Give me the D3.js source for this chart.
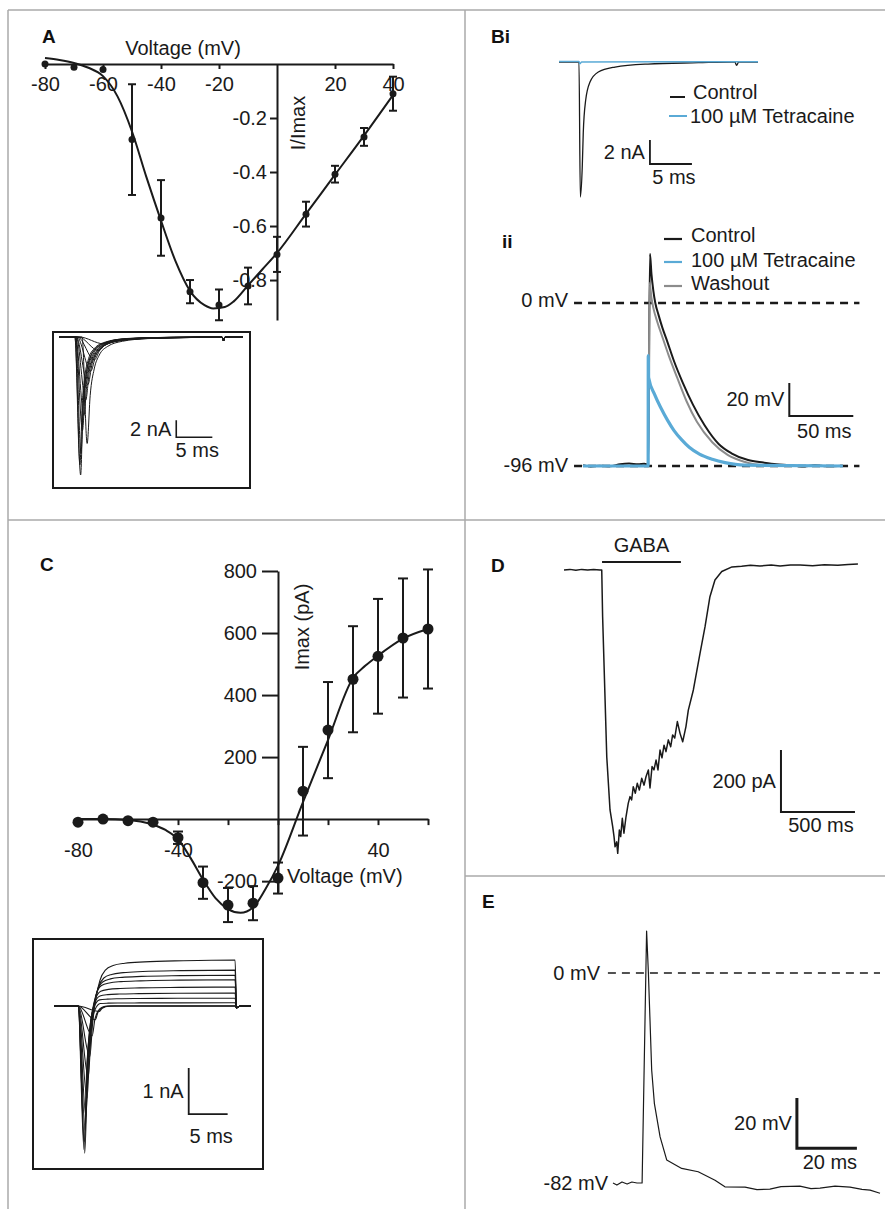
<!DOCTYPE html>
<html>
<head>
<meta charset="utf-8">
<script src="https://cdn.jsdelivr.net/npm/d3@7"></script>
<style>
body { margin: 0; background: #fff; }
svg { display: block; font-family: "Liberation Sans", Arial, sans-serif; }
.axis text { font-size: 20px; font-family: "Liberation Sans", Arial, sans-serif; fill: #1a1a1a; }
.axis path, .axis line { stroke: #1a1a1a; stroke-width: 2; }
</style>
</head>
<body>
<div id="fig"></div>
<script>
// ---------- Panel A: normalised I-V ----------
var voltsA = [-80, -70, -60, -50, -40, -30, -20, -10, 0, 10, 20, 30, 40];
var normA = [0.0, -0.012, -0.02, -0.28, -0.57, -0.843, -0.892, -0.822, -0.705, -0.556, -0.408, -0.27, -0.11];
var errA = [0, 0, 0, 0.205, 0.14, 0.043, 0.057, 0.068, 0.065, 0.046, 0.031, 0.033, 0.063];
var fitVoltsA = [-80, -75, -70, -65, -60, -55, -50, -45, -40, -35, -30, -25, -22, -18, -15, -10, -5, 0, 10, 20, 30, 40];
var fitNormA = [0.022, 0.015, 0.004, -0.014, -0.045, -0.12, -0.25, -0.42, -0.58, -0.73, -0.84, -0.893, -0.905, -0.9, -0.88, -0.82, -0.76, -0.70, -0.555, -0.41, -0.265, -0.115];
var tickVoltsA = [-80, -60, -40, -20, 20, 40];
var tickNormA = [-0.2, -0.4, -0.6, -0.8];

// inset A: family of Na currents (nA, ms)
var peakAmpA = [-16.2, -15, -13.6, -12.5, -11, -9.2, -7.4, -5.6, -4, -2.7, -1.6, -0.8];
var peakTimeA = [3.0, 2.9, 3.05, 3.9, 3.25, 3.45, 3.7, 4.0, 4.4, 4.9, 5.5, 6.2];
var onsetA = [2.2, 2.2, 2.3, 3.2, 2.3, 2.3, 2.4, 2.4, 2.5, 2.6, 2.7, 2.8];
var stretchA = [1, 1, 1.1, 1.4, 1.3, 1.5, 1.7, 2, 2.3, 2.6, 3, 3.4];
var decayA = [[0, 1], [0.3, 0.55], [0.7, 0.3], [1.2, 0.17], [2, 0.09], [3.5, 0.04], [6, 0.015], [10, 0.005], [16, 0]];
var blipA = [[22.6, 0], [22.8, -0.45], [23.0, 0], [25.5, 0]];

// ---------- Panel Bi (nA, ms) ----------
var controlBi = [[0, 0], [2.38, 0], [2.54, -11.25], [2.77, -8.75], [2.89, -5.9], [3.18, -3.17], [3.69, -1.67], [4.68, -0.83], [6.67, -0.42], [10.6, -0.17], [16.6, -0.06], [20.6, 0], [20.95, 0], [21.15, -0.28], [21.4, 0], [23.7, 0]];
var tetraBi = [[0, 0.05], [2.38, 0.05], [2.48, -0.15], [2.7, 0], [23.7, 0.02]];

// ---------- Panel Bii (mV, ms) ----------
var controlBii = [[-51, -95.5], [-45, -96.3], [-38, -95.8], [-30, -96.2], [-22, -95], [-15, -94.6], [-8, -95], [-3, -94.7], [0, -95.3], [1.3, 29], [2.5, 17], [4, 7], [5.5, 0], [8, -7], [11, -14.5], [15, -23], [20, -34], [27, -47], [35, -60], [44, -72], [55, -83], [65, -88.5], [78, -92.5], [90, -94], [100, -95], [110, -95.5], [120, -96.3], [130, -95.6], [140, -96.2], [152, -95.8]];
var washBii = [[-51, -96], [0, -96], [1, 12], [2.5, 3], [4, -3], [7, -11], [11, -20], [16, -31], [22.6, -44], [30, -58], [38, -70], [50, -82], [62, -89.5], [75, -93.5], [90, -95.5], [152, -96]];
var tetraBii = [[-51, -96], [-0.1, -96], [0, -31], [0.3, -44], [5, -54], [10, -62], [15, -69], [20, -75], [26, -80.5], [32, -85], [40, -89], [50, -92], [60, -94], [75, -95.5], [152, -96]];
var levelsBii = [0, -96];

// ---------- Panel C: I-V in pA ----------
var voltsC = [-80, -70, -60, -50, -40, -30, -20, -10, 0, 10, 20, 30, 40, 50, 60];
var imaxC = [-10, 0, -5, -10, -60, -205, -277, -271, -190, 90, 287, 451, 525, 584, 613];
var errC = [0, 0, 0, 0, 20, 52, 55, 55, 50, 143, 155, 171, 185, 192, 192];
var fitVoltsC = [-80, -70, -60, -55, -50, -45, -40, -35, -30, -25, -20, -15, -10, -5, 0, 10, 20, 30, 35, 40, 50, 60];
var fitImaxC = [0, 0, -3, -8, -18, -35, -65, -125, -195, -255, -290, -302, -285, -225, -150, 55, 255, 455, 495, 527, 582, 613];
var tickVoltsC = [-80, -60, -40, -20, 0, 20, 40, 60];
var labelVoltsC = [-80, -40, 40];
var tickImaxC = [800, 600, 400, 200, -200];

// inset C: currents (nA, ms)
var peakAmpC = [-3.2, -3.12, -2.95, -2.7, -2.4, -2.0, -1.55, -1.1, -0.65, -0.3, -0.12];
var peakTimeC = [3.95, 3.85, 3.9, 4.0, 4.1, 4.25, 4.4, 4.6, 4.9, 5.3, 5.8];
var plateauC = [0.07, 0.17, 0.28, 0.41, 0.57, 0.67, 0.78, 1.0, 0, 0, 0];
var onsetC = 3.1;
var pulseEndC = 23.3;
var recoverC = [[0, 1, 0], [0.35, 0.45, 0.1], [0.8, 0.15, 0.35], [1.3, 0.04, 0.6], [2, 0, 0.78], [3, 0, 0.88], [4.5, 0, 0.93], [7, 0, 0.96], [12, 0, 0.985], [19, 0, 1]];

// ---------- Panel D: GABA current (pA, ms) ----------
var traceD = [[0, 0], [40, 2], [80, -1], [120, 2], [160, 0], [200, 2], [243, 0], [255, 0], [261, -151], [289, -603], [311, -774], [329, -828], [338, -860], [345, -893], [356, -877], [363, -914], [374, -839], [383, -860], [394, -801], [405, -849], [419, -796], [434, -753], [446, -731], [457, -742], [468, -699], [482, -720], [495, -688], [509, -710], [525, -672], [541, -694], [554, -667], [570, -645], [581, -703], [595, -634], [608, -645], [622, -613], [635, -645], [649, -581], [662, -606], [676, -565], [689, -586], [705, -548], [721, -570], [734, -532], [748, -542], [766, -489], [784, -527], [802, -554], [824, -505], [840, -452], [874, -387], [919, -269], [953, -183], [986, -86], [1020, -32], [1066, -5], [1135, 10], [1200, 12], [1260, 15], [1324, 13], [1400, 16], [1460, 13], [1530, 16], [1595, 16], [1680, 14], [1760, 17], [1850, 15], [1920, 18], [1986, 19]];
var gabaD = [257, 790];

// ---------- Panel E: action potential (mV, ms) ----------
var traceE = [[0, -82], [1.3, -82.8], [3, -81.6], [4.7, -82.4], [6.3, -81.6], [8, -82], [9.7, -82], [11.2, 16.4], [11.8, 0], [12.9, -38], [13.8, -51], [15.7, -64], [17.9, -73], [22.9, -76.3], [28.4, -77.6], [34, -80.9], [37.3, -83.5], [44, -83.6], [48, -84.6], [52.3, -84.4], [56, -83.4], [62.3, -83.2], [66, -84.2], [69, -84], [74, -83.2], [79, -83.6], [83, -84.5], [85.7, -84.8], [89, -86]];
var levelsE = [0];

var blue = "#5aaad6";
var ink = "#1a1a1a";

var svgWidth = 885;
var svgHeight = 1209;

var svg = d3.select("#fig")
  .append("svg")
  .attr("width", svgWidth)
  .attr("height", svgHeight);

svg.append("rect").attr("width", svgWidth).attr("height", svgHeight).attr("fill", "#fff");

// panel frame
var frame = [[8, 10, 885, 10], [8, 10, 8, 1209], [465, 10, 465, 1209], [8, 520, 885, 520], [465, 876, 885, 876]];
svg.selectAll("line.frame")
  .data(frame)
  .enter()
  .append("line")
  .attr("class", "frame")
  .attr("x1", d => d[0]).attr("y1", d => d[1])
  .attr("x2", d => d[2]).attr("y2", d => d[3])
  .attr("stroke", "#aaaaaa")
  .attr("stroke-width", 1.5);

function letter(x, y, t) {
  svg.append("text").attr("x", x).attr("y", y).text(t)
    .attr("font-size", "19px").attr("font-weight", "bold").attr("fill", "#111");
}

function label(g, x, y, t, anchor) {
  return g.append("text").attr("x", x).attr("y", y).attr("dy", "0.35em")
    .attr("text-anchor", anchor || "start")
    .attr("font-size", "20px").attr("fill", ink).text(t);
}

function trace(g, pts, x, y, color, w, curve) {
  return g.append("path")
    .datum(pts)
    .attr("d", d3.line().x(d => x(d[0])).y(d => y(d[1])).curve(curve || d3.curveLinear))
    .attr("fill", "none")
    .attr("stroke", color)
    .attr("stroke-width", w)
    .attr("stroke-linejoin", "round");
}

// scale bar: vertical from v0 down by dv, then horizontal dt
function scaleBar(g, x, y, t0, v0, dt, dv, vText, tText, w, tGap) {
  var pts = [[t0, v0], [t0, v0 - dv], [t0 + dt, v0 - dv]];
  trace(g, pts, x, y, ink, w || 2).attr("stroke-linejoin", "miter");
  label(g, x(t0) - 5, (y(v0) + y(v0 - dv)) / 2, vText, "end");
  label(g, (x(t0) + x(t0 + dt)) / 2 + 3, y(v0 - dv) + (tGap || 14), tText, "middle");
}

// ================= Panel A =================
var gA = svg.append("g");
letter(42, 43, "A");

var xA = d3.scaleLinear().domain([-80, 40]).range([45, 393]);
var yA = d3.scaleLinear().domain([0, -0.948]).range([64, 320]);

gA.append("g").attr("class", "axis")
  .attr("transform", `translate(0, ${yA(0)})`)
  .call(d3.axisBottom(xA).tickValues(tickVoltsA).tickSize(5).tickSizeOuter(0).tickPadding(8).tickFormat(d => String(d)));

gA.append("g").attr("class", "axis")
  .attr("transform", `translate(${xA(0)}, 0)`)
  .call(d3.axisLeft(yA).tickValues(tickNormA).tickSize(7).tickSizeOuter(0).tickPadding(3).tickFormat(d => d.toFixed(1)));

label(gA, 183, 48, "Voltage (mV)", "middle");
label(gA, 0, 0, "I/Imax", "middle").attr("transform", "translate(298,123) rotate(-90)");

var fitA = fitVoltsA.map((v, i) => [v, fitNormA[i]]);
trace(gA, fitA, xA, yA, ink, 2, d3.curveMonotoneX);

var ptsA = voltsA.map((v, i) => ({ v: v, i: normA[i], e: errA[i] }));
var errGA = gA.selectAll("g.errA").data(ptsA.filter(d => d.e > 0)).enter().append("g");
errGA.append("line").attr("x1", d => xA(d.v)).attr("x2", d => xA(d.v))
  .attr("y1", d => yA(d.i + d.e)).attr("y2", d => yA(d.i - d.e)).attr("stroke", ink).attr("stroke-width", 2);
errGA.append("line").attr("x1", d => xA(d.v) - 4).attr("x2", d => xA(d.v) + 4)
  .attr("y1", d => yA(d.i + d.e)).attr("y2", d => yA(d.i + d.e)).attr("stroke", ink).attr("stroke-width", 2);
errGA.append("line").attr("x1", d => xA(d.v) - 4).attr("x2", d => xA(d.v) + 4)
  .attr("y1", d => yA(d.i - d.e)).attr("y2", d => yA(d.i - d.e)).attr("stroke", ink).attr("stroke-width", 2);
gA.selectAll("circle").data(ptsA).enter().append("circle")
  .attr("cx", d => xA(d.v)).attr("cy", d => yA(d.i)).attr("r", 3.5).attr("fill", ink);

// inset A
gA.append("rect").attr("x", 53).attr("y", 332).attr("width", 197).attr("height", 156)
  .attr("fill", "none").attr("stroke", ink).attr("stroke-width", 2);
var xAi = d3.scaleLinear().domain([0, 25.5]).range([59, 243]);
var yAi = d3.scaleLinear().domain([0, -16.2]).range([337, 475]);
peakAmpA.forEach(function(amp, k) {
  var pk = peakTimeA[k], s = stretchA[k];
  var pts = [[0, 0], [onsetA[k], 0], [pk, amp]];
  decayA.slice(1).forEach(function(d) {
    var t = pk + d[0] * s;
    if (t < 22.4) pts.push([t, amp * d[1]]);
  });
  pts = pts.concat(blipA);
  trace(gA, pts, xAi, yAi, ink, 1, d3.curveMonotoneX);
});
scaleBar(gA, xAi, yAi, 16.25, -9.76, 5, 2, "2 nA", "5 ms", 1.6, 13);

// ================= Panel Bi =================
var gB = svg.append("g");
letter(491, 43, "Bi");
var xBi = d3.scaleLinear().domain([0, 23.7]).range([559, 758]);
var yBi = d3.scaleLinear().domain([0, -11.25]).range([62, 197]);
trace(gB, controlBi, xBi, yBi, ink, 1.3, d3.curveMonotoneX);
trace(gB, tetraBi, xBi, yBi, blue, 1.5, d3.curveMonotoneX);
gB.append("line").attr("x1", 670).attr("x2", 685).attr("y1", 97).attr("y2", 97).attr("stroke", ink).attr("stroke-width", 2);
label(gB, 693, 92, "Control");
gB.append("line").attr("x1", 669).attr("x2", 687).attr("y1", 116).attr("y2", 116).attr("stroke", blue).attr("stroke-width", 2);
label(gB, 690, 116, "100 µM Tetracaine");
scaleBar(gB, xBi, yBi, 10.83, -6.5, 5, 2, "2 nA", "5 ms", 1.8, 13);

// ================= Panel Bii =================
letter(502, 248, "ii");
var xBii = d3.scaleLinear().domain([-51, 152]).range([583, 842.8]);
var yBii = d3.scaleLinear().domain([0, -96]).range([303, 466]);
gB.selectAll("line.lvl").data(levelsBii).enter().append("line")
  .attr("x1", xBii(-58)).attr("x2", xBii(165))
  .attr("y1", d => yBii(d)).attr("y2", d => yBii(d))
  .attr("stroke", ink).attr("stroke-width", 2.5).attr("stroke-dasharray", "8,6");
label(gB, 568, 300, "0 mV", "end");
label(gB, 568, 465, "-96 mV", "end");
trace(gB, controlBii, xBii, yBii, ink, 2, d3.curveMonotoneX);
trace(gB, washBii, xBii, yBii, "#8c8c8c", 2, d3.curveMonotoneX);
trace(gB, tetraBii, xBii, yBii, blue, 3.2, d3.curveMonotoneX);
var legB = [["Control", ink, 239, 235], ["100 µM Tetracaine", blue, 262, 260], ["Washout", "#8c8c8c", 286, 283]];
legB.forEach(function(d) {
  gB.append("line").attr("x1", 664).attr("x2", 682).attr("y1", d[2]).attr("y2", d[2]).attr("stroke", d[1]).attr("stroke-width", 2.2);
  label(gB, 691, d[3], d[0]);
});
scaleBar(gB, xBii, yBii, 110.2, -47.1, 50, 19.4, "20 mV", "50 ms", 2, 15);

// ================= Panel C =================
var gC = svg.append("g");
letter(40, 571, "C");
var xC = d3.scaleLinear().domain([-80, 60]).range([78, 428]);
var yC = d3.scaleLinear().domain([-235, 800]).range([892, 571]);

gC.append("g").attr("class", "axis")
  .attr("transform", `translate(0, ${yC(0)})`)
  .call(d3.axisBottom(xC).tickValues(tickVoltsC).tickSize(6).tickSizeOuter(0).tickPadding(18)
    .tickFormat(d => labelVoltsC.indexOf(d) >= 0 ? String(d) : ""));
gC.append("g").attr("class", "axis")
  .attr("transform", `translate(${xC(0)}, 0)`)
  .call(d3.axisLeft(yC).tickValues(tickImaxC).tickSize(16).tickSizeOuter(0).tickPadding(5).tickFormat(d => String(d)));

label(gC, 287, 876, "Voltage (mV)");
label(gC, 0, 0, "Imax (pA)", "middle").attr("transform", "translate(302,627) rotate(-90)");

var fitC = fitVoltsC.map((v, i) => [v, fitImaxC[i]]);
trace(gC, fitC, xC, yC, ink, 2, d3.curveMonotoneX);

var ptsC = voltsC.map((v, i) => ({ v: v, i: imaxC[i], e: errC[i] }));
var errGC = gC.selectAll("g.errC").data(ptsC.filter(d => d.e > 0)).enter().append("g");
errGC.append("line").attr("x1", d => xC(d.v)).attr("x2", d => xC(d.v))
  .attr("y1", d => yC(d.i + d.e)).attr("y2", d => yC(d.i - d.e)).attr("stroke", ink).attr("stroke-width", 2);
errGC.append("line").attr("x1", d => xC(d.v) - 5).attr("x2", d => xC(d.v) + 5)
  .attr("y1", d => yC(d.i + d.e)).attr("y2", d => yC(d.i + d.e)).attr("stroke", ink).attr("stroke-width", 2);
errGC.append("line").attr("x1", d => xC(d.v) - 5).attr("x2", d => xC(d.v) + 5)
  .attr("y1", d => yC(d.i - d.e)).attr("y2", d => yC(d.i - d.e)).attr("stroke", ink).attr("stroke-width", 2);
gC.selectAll("circle").data(ptsC).enter().append("circle")
  .attr("cx", d => xC(d.v)).attr("cy", d => yC(d.i)).attr("r", 5.5).attr("fill", ink);

// inset C
gC.append("rect").attr("x", 33).attr("y", 939).attr("width", 230).attr("height", 230)
  .attr("fill", "none").attr("stroke", ink).attr("stroke-width", 2);
var xCi = d3.scaleLinear().domain([0, 25.3]).range([54, 251]);
var yCi = d3.scaleLinear().domain([0, -3.2]).range([1006, 1153.2]);
peakAmpC.forEach(function(amp, k) {
  var pk = peakTimeC[k], pl = plateauC[k];
  var pts = [[0, 0], [onsetC, 0], [pk, amp]];
  recoverC.slice(1).forEach(function(d) {
    var t = pk + d[0];
    if (t < pulseEndC - 0.2) pts.push([t, amp * d[1] + pl * d[2]]);
  });
  pts.push([pulseEndC - 0.05, pl], [pulseEndC + 0.15, -0.04], [pulseEndC + 0.6, 0], [25.3, 0]);
  trace(gC, pts, xCi, yCi, ink, 1.1, d3.curveMonotoneX);
});
scaleBar(gC, xCi, yCi, 17.3, -1.35, 5, 1, "1 nA", "5 ms", 1.8, 22);

// ================= Panel D =================
var gD = svg.append("g");
letter(491, 572, "D");
var xD = d3.scaleLinear().domain([0, 2000]).range([564, 860]);
var yD = d3.scaleLinear().domain([0, -1000]).range([570, 880]);
trace(gD, traceD, xD, yD, ink, 1.5);
gD.append("line").attr("x1", xD(gabaD[0])).attr("x2", xD(gabaD[1]))
  .attr("y1", yD(26)).attr("y2", yD(26)).attr("stroke", ink).attr("stroke-width", 2);
label(gD, xD((gabaD[0] + gabaD[1]) / 2), yD(81), "GABA", "middle");
scaleBar(gD, xD, yD, 1466, -581, 500, 200, "200 pA", "500 ms", 2, 13);

// ================= Panel E =================
var gE = svg.append("g");
letter(482, 908, "E");
var xE = d3.scaleLinear().domain([0, 89]).range([613, 880]);
var yE = d3.scaleLinear().domain([0, -82]).range([973, 1183]);
gE.selectAll("line.lvl").data(levelsE).enter().append("line")
  .attr("x1", xE(-1.7)).attr("x2", xE(89))
  .attr("y1", d => yE(d)).attr("y2", d => yE(d))
  .attr("stroke", ink).attr("stroke-width", 1.6).attr("stroke-dasharray", "8,6");
label(gE, 600, 973, "0 mV", "end");
label(gE, 608, 1183, "-82 mV", "end");
trace(gE, traceE, xE, yE, ink, 1.2);
scaleBar(gE, xE, yE, 61.3, -48.8, 20, 19.6, "20 mV", "20 ms", 3, 14);
</script>
</body>
</html>
